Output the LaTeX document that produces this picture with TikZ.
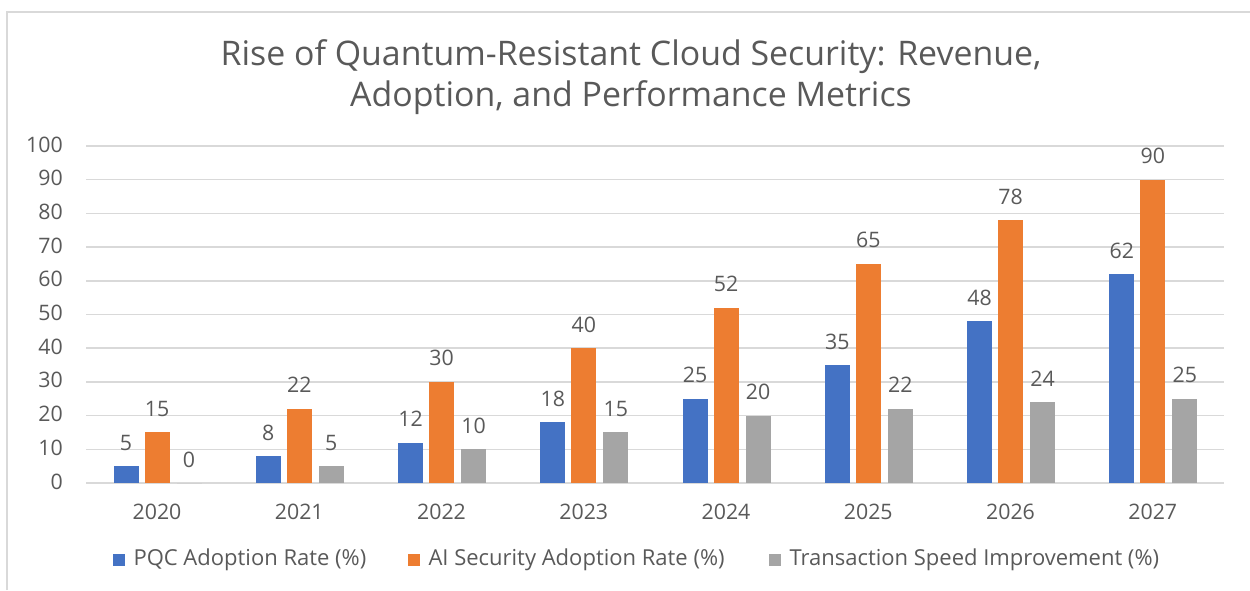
\documentclass[tikz,border=0pt]{standalone}
\usepackage{fontspec}
\setmainfont{Open Sans}
\usetikzlibrary{positioning, calc}
\usepackage{xcolor}
\definecolor{pqcblue}{HTML}{4472C4}
\definecolor{aiorange}{HTML}{ED7D31}
\definecolor{speedgray}{HTML}{A5A5A5}
\definecolor{txtgray}{HTML}{595959}
\definecolor{gridgray}{HTML}{D9D9D9}

\begin{document}
\begin{tikzpicture}[
        x=0.75pt, y=-0.75pt,
        grid/.style={draw=gridgray, line width=1.1pt},
        val/.style={anchor=base, inner sep=0pt, text=txtgray, font=\fontsize{16}{19}\selectfont},
        tick/.style={anchor=base east, inner sep=0pt, text=txtgray, font=\fontsize{16}{19}\selectfont},
        title/.style={anchor=base, inner sep=0pt, text=txtgray, font=\fontsize{25.4}{30}\selectfont},
        key/.style={rectangle, minimum size=9pt, inner sep=0pt},
        keytext/.style={inner sep=0pt, text=txtgray, font=\fontsize{16.5}{20}\selectfont}
    ]
    \useasboundingbox (0,0) rectangle (1250,590);

    % Chart frame
    \draw[grid] (7,590) -- (7,12) -- (1250,12);

    % Title
    \node[title] (title1) at (631,65) {Rise of Quantum-Resistant Cloud Security: Revenue,};
    \node[title] (title2) at (631,106) {Adoption, and Performance Metrics};

    % Grid and axis labels
    \foreach \v in {0,10,...,100} {
        \draw[grid] (86,{483-3.37*\v}) -- (1224,{483-3.37*\v});
        \node[tick] (tick-\v) at (63,{489-3.37*\v}) {\v};
    }

    % Bars with data labels
    \foreach \pqc/\ai/\spd/\yr [count=\i from 0] in
        {5/15/0/2020, 8/22/5/2021, 12/30/10/2022, 18/40/15/2023,
         25/52/20/2024, 35/65/22/2025, 48/78/24/2026, 62/90/25/2027} {
        \pgfmathsetmacro\cx{157+142.25*\i}
        \fill[pqcblue] (\cx-43.5,483) rectangle (\cx-18.5,{483-3.37*\pqc});
        \fill[aiorange] (\cx-12.5,483) rectangle (\cx+12.5,{483-3.37*\ai});
        \fill[speedgray] (\cx+19.5,483) rectangle (\cx+44.5,{483-3.37*\spd});
        \node[val] (pqc-\i) at (\cx-31,{467-3.37*\pqc}) {\pqc};
        \node[val] (ai-\i) at (\cx,{467-3.37*\ai}) {\ai};
        \node[val] (spd-\i) at (\cx+32,{467-3.37*\spd}) {\spd};
        \node[val] (yr-\i) at (\cx,519) {\yr};
    }

    % Legend
    \node[key, fill=pqcblue] (key1) at (119,560) {};
    \node[keytext, right=6pt of key1] (lab1) {PQC Adoption Rate (\%)};
    \node[key, fill=aiorange] (key2) at (414,560) {};
    \node[keytext, right=6pt of key2] (lab2) {AI Security Adoption Rate (\%)};
    \node[key, fill=speedgray] (key3) at (775,560) {};
    \node[keytext, right=6pt of key3] (lab3) {Transaction Speed Improvement (\%)};

\end{tikzpicture}
\end{document}
